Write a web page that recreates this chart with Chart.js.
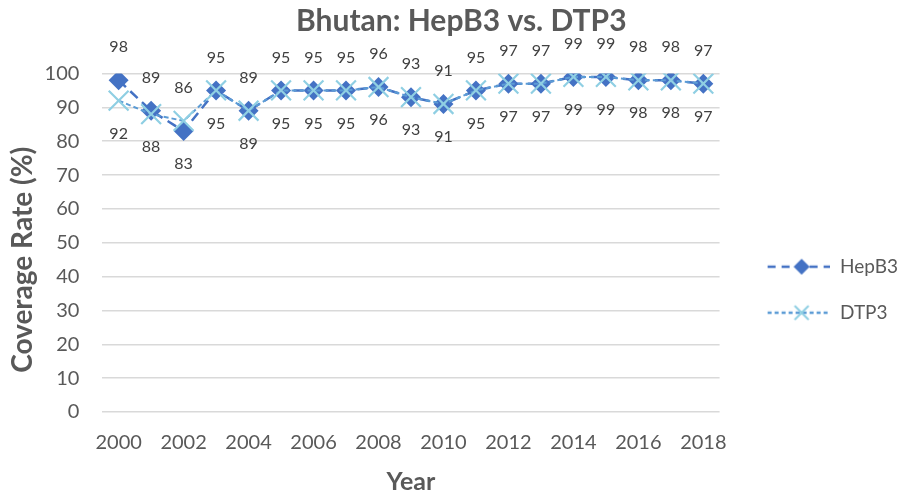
<!DOCTYPE html>
<html>
<head>
<meta charset="utf-8">
<script src="https://cdn.jsdelivr.net/npm/chart.js@4"></script>
<style>
  html, body { margin: 0; padding: 0; background: #fff; }
  #wrap { width: 908px; height: 493px; }
</style>
</head>
<body>
<div id="wrap"><canvas id="chart"></canvas></div>
<script>
// values
const years = ["2000", "2001", "2002", "2003", "2004", "2005", "2006", "2007", "2008", "2009",
  "2010", "2011", "2012", "2013", "2014", "2015", "2016", "2017", "2018"];
const hepb3 = [98, 89, 83, 95, 89, 95, 95, 95, 96, 93, 91, 95, 97, 97, 99, 99, 98, 98, 97];
const dtp3 = [92, 88, 86, 95, 89, 95, 95, 95, 96, 93, 91, 95, 97, 97, 99, 99, 98, 98, 97];

const hepColor = "#4472C4";
const dtpLine = "#5B9BD5";
const dtpMark = "#8FCFE3";
const grey = "#595959";
const font = "Lato, 'Open Sans', sans-serif";
const nb = "\u00A0"; // padding spaces to nudge centred titles

// legend swatch: dashed line with the marker in the middle
// (left part of the canvas is left empty to widen the legend column)
const gap = 20;
function swatch(kind) {
  const c = document.createElement("canvas");
  c.width = 62 + gap; c.height = 22;
  const g = c.getContext("2d");
  g.translate(gap, 0);
  g.lineWidth = 2.5;
  if (kind === "hep") {
    g.strokeStyle = hepColor;
    g.setLineDash([8, 6]);
  } else {
    g.strokeStyle = dtpLine;
    g.setLineDash([4, 3]);
  }
  g.beginPath(); g.moveTo(0, 11); g.lineTo(62, 11); g.stroke();
  g.setLineDash([]);
  if (kind === "hep") {
    g.fillStyle = hepColor;
    g.beginPath();
    g.moveTo(34, 3); g.lineTo(42, 11); g.lineTo(34, 19); g.lineTo(26, 11);
    g.closePath(); g.fill();
  } else {
    g.strokeStyle = dtpMark;
    g.lineWidth = 2;
    g.beginPath();
    g.moveTo(27, 4); g.lineTo(41, 18);
    g.moveTo(41, 4); g.lineTo(27, 18);
    g.stroke();
  }
  return c;
}
const swatches = [swatch("hep"), swatch("dtp")];

// value labels: the higher of the two goes above, the lower below
const valueLabels = {
  id: "valueLabels",
  afterDatasetsDraw(chart) {
    const ctx = chart.ctx;
    ctx.save();
    ctx.font = "16px " + font;
    ctx.fillStyle = "#404040";
    ctx.textAlign = "center";
    ctx.textBaseline = "middle";
    const sets = chart.data.datasets;
    sets.forEach((ds, di) => {
      const meta = chart.getDatasetMeta(di);
      const other = sets[1 - di].data;
      meta.data.forEach((pt, i) => {
        const v = ds.data[i];
        const above = di === 0 ? v >= other[i] : v > other[i];
        const y = above ? pt.y - 33 : pt.y + 33;
        ctx.fillText(String(v), pt.x, y);
      });
    });
    ctx.restore();
  }
};

const config = {
  type: "line",
  data: {
    labels: years,
    datasets: [
      {
        label: "HepB3",
        data: hepb3,
        borderColor: hepColor,
        backgroundColor: hepColor,
        borderWidth: 2.5,
        borderDash: [10, 6],
        pointStyle: "rectRot",
        pointRadius: 10,
        pointHoverRadius: 10,
        pointBorderWidth: 0,
        pointBackgroundColor: hepColor,
        order: 1
      },
      {
        label: "DTP3",
        data: dtp3,
        borderColor: dtpLine,
        backgroundColor: dtpMark,
        borderWidth: 2,
        borderDash: [5, 3],
        pointStyle: "crossRot",
        pointRadius: 14,
        pointHoverRadius: 14,
        pointBorderWidth: 2.2,
        pointBorderColor: dtpMark,
        order: 0
      }
    ]
  },
  options: {
    responsive: true,
    maintainAspectRatio: false,
    animation: false,
    layout: { padding: 0 },
    plugins: {
      title: {
        display: true,
        text: nb + nb + "Bhutan: HepB3 vs. DTP3",
        color: grey,
        font: { family: font, size: 30, weight: "bold", lineHeight: 1.15 },
        padding: { top: 4, bottom: 35 }
      },
      legend: {
        position: "right",
        sort: (a, b) => a.datasetIndex - b.datasetIndex,
        title: { display: true, text: "", padding: { top: 0, bottom: 72 } },
        labels: {
          usePointStyle: true,
          pointStyleWidth: 64 + gap,
          color: grey,
          padding: 27,
          font: { family: font, size: 19 },
          generateLabels(chart) {
            return chart.data.datasets.map((ds, i) => ({
              text: ds.label,
              datasetIndex: i,
              pointStyle: swatches[i],
              fontColor: grey,
              hidden: false,
              lineWidth: 0,
              strokeStyle: "transparent",
              fillStyle: "transparent"
            }));
          }
        }
      },
      tooltip: { enabled: false }
    },
    scales: {
      x: {
        offset: true,
        grid: { display: false, drawTicks: false },
        border: { display: false },
        ticks: {
          autoSkip: false,
          maxRotation: 0,
          color: grey,
          font: { family: font, size: 20 },
          padding: 19,
          callback(val, i) { return i % 2 === 0 ? this.getLabelForValue(val) : ""; }
        },
        title: {
          display: true,
          text: "Year",
          color: grey,
          font: { family: font, size: 25, weight: "bold", lineHeight: 1 },
          padding: { top: -5, bottom: -1 }
        }
      },
      y: {
        min: 0,
        max: 100,
        ticks: {
          stepSize: 10,
          color: grey,
          font: { family: font, size: 20 },
          padding: 23
        },
        grid: { color: "#d9d9d9", lineWidth: 1.5, drawTicks: false },
        border: { display: false },
        title: {
          display: true,
          text: "Coverage Rate (%)" + nb.repeat(5),
          color: grey,
          font: { family: font, size: 28, weight: "bold" },
          padding: { top: 6, bottom: -18 }
        }
      }
    }
  },
  plugins: [valueLabels]
};

new Chart(document.getElementById("chart"), config);
</script>
</body>
</html>
